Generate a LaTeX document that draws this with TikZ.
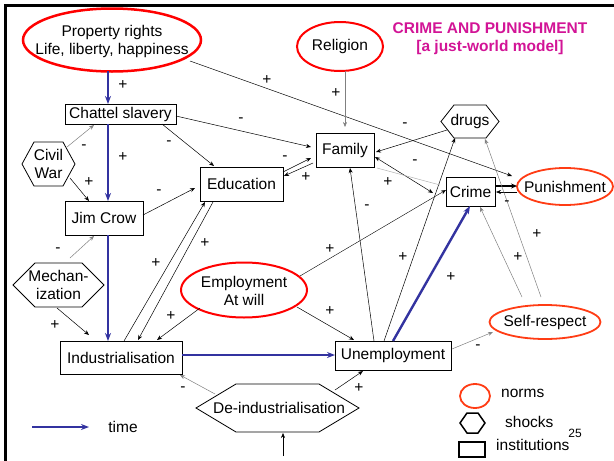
\documentclass[tikz,border=0pt]{standalone}
\usepackage{fontspec}
\setmainfont{Liberation Sans}
\usetikzlibrary{arrows.meta}
\definecolor{tblue}{RGB}{51,51,160}
\definecolor{nred}{RGB}{255,0,0}
\definecolor{ored}{RGB}{255,60,20}
\definecolor{tmag}{RGB}{210,20,150}
\begin{document}
\begin{tikzpicture}[x=1pt,y=-1pt,font=\fontsize{15.5}{18}\selectfont,
  rbox/.style={draw, line width=0.8pt, inner sep=0pt},
  tbox/.style={inner sep=0pt, align=center},
  arr/.style={-{Stealth[length=5pt,width=4pt]}, line width=0.5pt},
  garr/.style={arr, draw=black!50},
  barr/.style={-{Stealth[length=8pt,width=6pt]}, line width=2.4pt, draw=tblue},
  lab/.style={inner sep=0pt},
  norm/.style={draw=nred, line width=2pt},
  onorm/.style={draw=ored, line width=1.8pt},
  hexline/.style={draw, line width=0.8pt}]
\useasboundingbox (0,0) rectangle (614,461);
% frame
\draw[line width=2.5pt] (5.5,461) -- (5.5,5.5) -- (614,5.5);

% title
\node[tbox, text=tmag, font=\fontsize{15.5}{18}\selectfont\bfseries] (title) at (490,39) {CRIME AND PUNISHMENT\\{[a just-world model]}};

% norms (ellipses)
\node[tbox] (prop) at (112,41) {Property rights\\Life, liberty, happiness};
\draw[norm, line width=2.5pt] ([shift={(0,-1)}]prop.center) ellipse [x radius=89, y radius=31.5];
\node[tbox] (relig) at (340,46.5) {Religion};
\draw[norm] (relig.center) ellipse [x radius=43, y radius=24.5];
\node[tbox] (emp) at (244,291) {Employment\\At will};
\draw[norm] ([shift={(0,-1)}]emp.center) ellipse [x radius=63, y radius=27.5];
\node[tbox] (pun) at (565,186.5) {Punishment};
\draw[onorm] (pun.center) ellipse [x radius=48, y radius=18.5];
\node[tbox] (selfr) at (545,322) {Self-respect};
\draw[onorm] (selfr.center) ellipse [x radius=55.5, y radius=17];

% institutions (rectangles)
\node[rbox, minimum width=111, minimum height=20] (chattel) at (120.5,114) {Chattel slavery};
\node[rbox, minimum width=78, minimum height=34] (jim) at (104,218) {Jim Crow};
\node[rbox, minimum width=83, minimum height=34] (edu) at (241.5,184) {Education};
\node[rbox, minimum width=122, minimum height=33] (ind) at (121,357.5) {Industrialisation};
\node[rbox, minimum width=116, minimum height=29] (unemp) at (393,355.5) {Unemployment};
\node[rbox, minimum width=58, minimum height=34] (family) at (345,150) {Family};
\node[rbox, minimum width=49, minimum height=29] (crime) at (470.5,191.5) {Crime};

% shocks (hexagons)
\node[tbox] (civil) at (48.5,164) {Civil\\War};
\draw[hexline] ([shift={(-14.5,-22)}]civil.center) -- ([shift={(14.5,-22)}]civil.center) -- ([shift={(26.5,0)}]civil.center) -- ([shift={(14.5,22)}]civil.center) -- ([shift={(-14.5,22)}]civil.center) -- ([shift={(-26.5,0)}]civil.center) -- cycle;
\node[tbox] (mech) at (58.5,285) {Mechan-\\ization};
\draw[hexline] ([shift={(-23.5,-22)}]mech.center) -- ([shift={(23.5,-22)}]mech.center) -- ([shift={(45.5,0)}]mech.center) -- ([shift={(23.5,22)}]mech.center) -- ([shift={(-23.5,22)}]mech.center) -- ([shift={(-45.5,0)}]mech.center) -- cycle;
\node[tbox] (drugs) at (470,121.5) {drugs};
\draw[hexline] ([shift={(-16,-16.5)}]drugs.center) -- ([shift={(16,-16.5)}]drugs.center) -- ([shift={(29,0)}]drugs.center) -- ([shift={(16,16.5)}]drugs.center) -- ([shift={(-16,16.5)}]drugs.center) -- ([shift={(-29,0)}]drugs.center) -- cycle;
\node[tbox] (deind) at (279,408) {De-industrialisation};
\draw[hexline] ([shift={(-43,-24)}]deind.center) -- ([shift={(40,-24)}]deind.center) -- ([shift={(80,0)}]deind.center) -- ([shift={(40,24)}]deind.center) -- ([shift={(-43,24)}]deind.center) -- ([shift={(-83,0)}]deind.center) -- cycle;

% blue time chain
\draw[barr] ([shift={(-4,30)}]prop.center) -- ([shift={(-12.5,-10)}]chattel.center);
\draw[barr] ([shift={(-12.5,10)}]chattel.center) -- ([shift={(4,-17)}]jim.center);
\draw[barr] ([shift={(4,17)}]jim.center) -- ([shift={(-13,-16.5)}]ind.center);
\draw[barr] ([shift={(61,-2.5)}]ind.center) -- ([shift={(-58,-0.5)}]unemp.center);
\draw[barr] ([shift={(0,-14.5)}]unemp.center) -- ([shift={(-0.5,14.5)}]crime.center);

% thin connectors
\draw[arr] ([shift={(78,20)}]prop.center) -- ([shift={(-53,-10.5)}]pun.center);
\draw[arr] ([shift={(55.5,2)}]chattel.center) -- ([shift={(-34,-3)}]family.center);
\draw[arr] ([shift={(41.5,10)}]chattel.center) -- ([shift={(-27.5,-18)}]edu.center);
\draw[garr] ([shift={(18.5,-17)}]civil.center) -- ([shift={(-26.5,11)}]chattel.center);
\draw[arr] ([shift={(21.5,14)}]civil.center) -- ([shift={(-15,-17)}]jim.center);
\draw[arr] ([shift={(39,-3)}]jim.center) -- ([shift={(-46.5,4)}]edu.center);
\draw[garr] ([shift={(11.5,-27)}]mech.center) -- ([shift={(-10,18)}]jim.center);
\draw[arr] ([shift={(-1.5,23)}]mech.center) -- ([shift={(-32,-22.5)}]ind.center);
\draw[arr] ([shift={(3,-16.5)}]ind.center) -- ([shift={(-36.5,18)}]edu.center);
\draw[arr] ([shift={(-28.5,18)}]edu.center) -- ([shift={(17,-17.5)}]ind.center);
\draw[arr] ([shift={(-44,17)}]emp.center) -- ([shift={(36,-17.5)}]ind.center);
\draw[arr] ([shift={(53,16)}]emp.center) -- ([shift={(-39,-15.5)}]unemp.center);
\draw[arr, line width=0.4pt] ([shift={(56,-15)}]emp.center) -- ([shift={(-24.5,-1.5)}]crime.center);
\draw[arr] ([shift={(-19,-14.5)}]unemp.center) -- ([shift={(5,18)}]family.center);
\draw[arr] ([shift={(-9,-14.5)}]unemp.center) -- ([shift={(-15,16.5)}]drugs.center);
\draw[garr] ([shift={(59,-6.5)}]unemp.center) -- ([shift={(-52,10)}]selfr.center);
\draw[garr] ([shift={(-64,-14)}]deind.center) -- ([shift={(59,17.5)}]ind.center);
\draw[arr] ([shift={(56,-18)}]deind.center) -- ([shift={(-30,15.5)}]unemp.center);
\coordinate (below) at (283,456);
\draw[arr] (below) -- ([shift={(4,25)}]deind.center);
\draw[garr] ([shift={(5,24.5)}]relig.center) -- ([shift={(0,-23)}]family.center);
\draw[arr] ([shift={(-23,8.5)}]drugs.center) -- ([shift={(31,2)}]family.center);
\draw[arr] ([shift={(41.5,-12)}]edu.center) -- ([shift={(-34,8)}]family.center);
\draw[arr] ([shift={(-32,13)}]family.center) -- ([shift={(42.5,-8)}]edu.center);
\draw[{Stealth[length=5pt,width=4pt]}-{Stealth[length=5pt,width=4pt]}, line width=0.5pt] ([shift={(30,7)}]family.center) -- ([shift={(-37.5,1.5)}]crime.center);
\draw[black!30, line width=0.5pt] ([shift={(32,18)}]family.center) -- ([shift={(-30.5,-6.5)}]crime.center);
\draw[-{Stealth[length=6pt,width=5pt]}, line width=1.6pt] ([shift={(24.5,-5.5)}]crime.center) -- ([shift={(-48,-0.5)}]pun.center);
\draw[arr] ([shift={(-48,5.5)}]pun.center) -- ([shift={(25.5,0.5)}]crime.center);
\draw[garr] ([shift={(-23,-25)}]selfr.center) -- ([shift={(9.5,15.5)}]crime.center);
\draw[garr] ([shift={(-4,-25)}]selfr.center) -- ([shift={(15,17.5)}]drugs.center);

% labels
\node[lab] (l1) at (123,85) {+};
\node[lab] (l2) at (123,157) {+};
\node[lab] (l3) at (451,277) {+};
\node[lab] (l4) at (267,80) {+};
\node[lab] (l5) at (241,120) {-};
\node[lab] (l6) at (169,143) {-};
\node[lab] (l7) at (84,147) {-};
\node[lab] (l8) at (89,182) {+};
\node[lab] (l9) at (159,192) {-};
\node[lab] (l10) at (58,250) {-};
\node[lab] (l11) at (55,325) {+};
\node[lab] (l12) at (156,263) {+};
\node[lab] (l13) at (205,243) {+};
\node[lab] (l14) at (171,316) {+};
\node[lab] (l15) at (330,311) {+};
\node[lab] (l16) at (330,249) {+};
\node[lab] (l17) at (367,207) {-};
\node[lab] (l18) at (403,257) {+};
\node[lab] (l19) at (478,347) {-};
\node[lab] (l20) at (183,389) {-};
\node[lab] (l21) at (359,388) {+};
\node[lab] (l22) at (336,93) {+};
\node[lab] (l23) at (405,125) {-};
\node[lab] (l24) at (285,158) {-};
\node[lab] (l25) at (306,177) {+};
\node[lab] (l26) at (415,162) {-};
\node[lab] (l27) at (388,182) {+};
\node[lab] (l28) at (518,257) {+};
\node[lab] (l29) at (537,234) {+};
\node[lab] (l30) at (507,203) {-};

% legend
\coordinate (t1) at (32,427);
\coordinate (t2) at (89,427);
\draw[barr, line width=1.8pt] (t1) -- (t2);
\node[tbox] (timelab) at (123,427) {time};
\node[inner sep=0pt] (normsym) at (475,396) {};
\draw[onorm] (normsym.center) ellipse [x radius=15, y radius=12];
\node[tbox, anchor=west] (normslab) at (501,393) {norms};
\node[inner sep=0pt] (shocksym) at (472.5,423) {};
\draw[hexline, line width=1.5pt] ([shift={(-5.5,-10)}]shocksym.center) -- ([shift={(5.5,-10)}]shocksym.center) -- ([shift={(12.5,0)}]shocksym.center) -- ([shift={(5.5,10)}]shocksym.center) -- ([shift={(-5.5,10)}]shocksym.center) -- ([shift={(-12.5,0)}]shocksym.center) -- cycle;
\node[tbox, anchor=west] (shockslab) at (505,422) {shocks};
\node[rbox, line width=1.5pt, minimum width=26, minimum height=15] (instsym) at (472,449.5) {};
\node[tbox, anchor=west] (instlab) at (496,445) {institutions};
\node[tbox, font=\fontsize{12}{14}\selectfont] (pagenum) at (575,433) {25};
\end{tikzpicture}
\end{document}
